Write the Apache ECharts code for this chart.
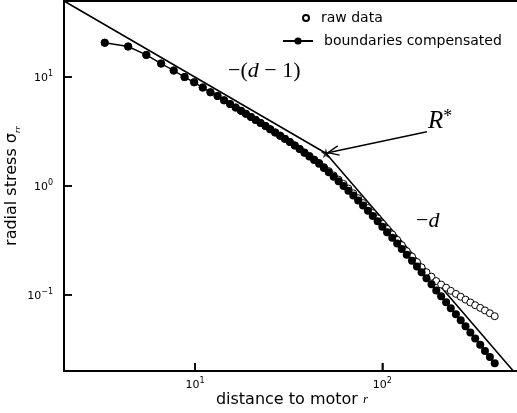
<!DOCTYPE html>
<html><head><meta charset="utf-8">
<script src="https://cdn.jsdelivr.net/npm/echarts@6/dist/echarts.min.js"></script>
<style>html,body{margin:0;padding:0;background:#fff}#c{width:517px;height:413px}</style>
</head><body><div id="c"></div>
<script>
// distance to motor r
const xValues = [3.3, 4.4, 5.5, 6.6, 7.7, 8.8, 9.9, 11.0, 12.1, 13.2, 14.3, 15.4, 16.5, 17.6,
  18.7, 19.9, 21.1, 22.4, 23.8, 25.2, 26.8, 28.5, 30.2, 32.1, 34.1, 36.2, 38.4, 40.8, 43.3, 46.0,
  48.8, 51.8, 55.0, 58.4, 62.1, 65.9, 70.0, 74.3, 78.9, 83.8, 88.9, 94.4, 100, 106, 113, 120,
  127, 135, 144, 153, 162, 172, 183, 194, 206, 219, 232, 247, 262, 278, 295, 313, 333, 353, 375, 398];
// boundaries compensated
const compensatedY = [20.7, 19.1, 16.0, 13.3, 11.5, 10.0, 8.95, 8.02, 7.25, 6.70, 6.12, 5.65, 5.25, 4.90,
  4.60, 4.31, 4.04, 3.79, 3.55, 3.32, 3.10, 2.90, 2.71, 2.54, 2.36, 2.19, 2.02, 1.87, 1.73, 1.60,
  1.46, 1.335, 1.214, 1.103, 0.999, 0.904, 0.816, 0.735, 0.661, 0.593, 0.531, 0.475, 0.423, 0.377, 0.335, 0.297,
  0.264, 0.234, 0.206, 0.182, 0.161, 0.142, 0.125, 0.110, 0.0973, 0.0857, 0.0755, 0.0665, 0.0585, 0.0514, 0.0452, 0.0397, 0.0349, 0.0306, 0.0269, 0.0236];
// raw data
const rawY = [20.7, 19.1, 16.0, 13.3, 11.5, 10.0, 8.95, 8.02, 7.25, 6.70, 6.12, 5.65, 5.25, 4.90,
  4.60, 4.31, 4.04, 3.79, 3.55, 3.32, 3.10, 2.90, 2.71, 2.54, 2.36, 2.19, 2.03, 1.89, 1.75, 1.63,
  1.49, 1.37, 1.25, 1.145, 1.044, 0.947, 0.857, 0.773, 0.697, 0.627, 0.563, 0.504, 0.450, 0.403, 0.359, 0.320,
  0.286, 0.252, 0.225, 0.2005, 0.179, 0.1615, 0.147, 0.134, 0.1245, 0.1165, 0.109, 0.1022, 0.0962, 0.0905, 0.0852, 0.0804, 0.076, 0.072, 0.0678, 0.0637];
// power-law guide lines: slope -(d-1) then -d, meeting at R*
const guideX = [2, 50, 500];
const guideY = [50, 2, 0.02];
const crossX = [50];
const crossY = [2];
// arrow from the R* label to the crossover point
const arrowX = [173, 51.2];
const arrowY = [3.15, 2.02];
// axis ranges and ticks
const xRange = [2, 543];
const yRange = [0.02, 50];
const xTicks = [10, 100];
const yTicks = [0.1, 1, 10];

const zip = (xs, ys) => xs.map((x, i) => [x, ys[i]]);
function powLabel(v) {
  const e = Math.log10(v);
  const r = Math.round(e);
  if (Math.abs(e - r) > 1e-6) return '';
  return '{b|10}{s|' + String(r).replace('-', '−') + '}';
}
const tickRich = {
  b: {fontSize: 11, color: '#000', lineHeight: 14, verticalAlign: 'bottom', fontFamily: 'DejaVu Sans'},
  s: {fontSize: 8, color: '#000', lineHeight: 4, verticalAlign: 'top', fontFamily: 'DejaVu Sans'}
};
const starPath = 'path://M50,0 L61,35 L98,35 L68,57 L79,91 L50,70 L21,91 L32,57 L2,35 L39,35 Z';
const tickStyle = {show: true, inside: true, length: 8, lineStyle: {color: '#000', width: 1.5}};

const chart = echarts.init(document.getElementById('c'), null, {renderer: 'canvas'});
const option = {
  animation: false,
  backgroundColor: '#fff',
  textStyle: {fontFamily: 'DejaVu Sans', color: '#000'},
  grid: {left: 64, right: -3, top: 1, bottom: 42, containLabel: false, outerBoundsMode: 'none'},
  legend: [
    {data: ['raw data'], left: 302, top: 11, itemWidth: 12, itemHeight: 6, padding: 0,
     selectedMode: false, textStyle: {fontSize: 14, color: '#000', padding: [0, 0, 0, 4]}},
    {data: ['boundaries compensated'], left: 282, top: 34, itemWidth: 30, itemHeight: 9, padding: 0,
     selectedMode: false, textStyle: {fontSize: 14, color: '#000', padding: [0, 0, 0, 6]}}
  ],
  xAxis: [{
    type: 'log', min: xRange[0], max: xRange[1], position: 'bottom',
    axisLine: {show: true, onZero: false, lineStyle: {color: '#000', width: 2}},
    axisTick: Object.assign({customValues: xTicks}, tickStyle),
    minorTick: {show: false}, splitLine: {show: false},
    axisLabel: {margin: 6, formatter: powLabel, rich: tickRich, customValues: xTicks},
    name: '{t|distance to motor }{r|r}', nameLocation: 'middle', nameGap: 20, nameMoveOverlap: false,
    nameTextStyle: {rich: {
      t: {fontSize: 16, color: '#000', fontFamily: 'DejaVu Sans', lineHeight: 18},
      r: {fontSize: 13, color: '#000', fontFamily: 'Liberation Serif', fontStyle: 'italic', lineHeight: 18}
    }}
  }, {
    type: 'log', min: xRange[0], max: xRange[1], position: 'top',
    axisLine: {show: true, onZero: false, lineStyle: {color: '#000', width: 2}},
    axisTick: {show: false}, axisLabel: {show: false}, splitLine: {show: false}
  }],
  yAxis: {
    type: 'log', min: yRange[0], max: yRange[1],
    axisLine: {show: true, onZero: false, lineStyle: {color: '#000', width: 2}},
    axisTick: Object.assign({customValues: yTicks}, tickStyle),
    minorTick: {show: false}, splitLine: {show: false},
    axisLabel: {margin: 11, formatter: powLabel, rich: tickRich, customValues: yTicks},
    name: '{t|radial stress σ}{sub|rr}', nameLocation: 'middle', nameGap: 42, nameMoveOverlap: false,
    nameTextStyle: {rich: {
      t: {fontSize: 16, color: '#000', fontFamily: 'DejaVu Sans', lineHeight: 18, verticalAlign: 'top'},
      sub: {fontSize: 9, color: '#000', fontFamily: 'Liberation Serif', fontStyle: 'italic', lineHeight: 6, verticalAlign: 'bottom'}
    }}
  },
  series: [
    {name: 'guide', type: 'line', data: zip(guideX, guideY), symbol: 'none', silent: true,
     lineStyle: {color: '#000', width: 1.6}, z: 2},
    {name: 'raw data', type: 'scatter', data: zip(xValues, rawY), symbol: 'circle', symbolSize: 7,
     itemStyle: {color: '#fff', borderColor: '#000', borderWidth: 1, opacity: 1}, z: 3},
    {name: 'boundaries compensated', type: 'line', data: zip(xValues, compensatedY), symbol: 'circle',
     symbolSize: 8, showSymbol: true, showAllSymbol: true,
     itemStyle: {color: '#000'}, lineStyle: {color: '#000', width: 1.4}, z: 4},
    {name: 'R*', type: 'scatter', data: zip(crossX, crossY), symbol: starPath, symbolSize: 10,
     itemStyle: {color: '#000'}, z: 5}
  ]
};
chart.setOption(option);

const toPx = (x, y) => chart.convertToPixel({seriesIndex: 0}, [x, y]);
const p0 = toPx(arrowX[0], arrowY[0]);
const p1 = toPx(arrowX[1], arrowY[1]);
const ang = Math.atan2(p0[1] - p1[1], p0[0] - p1[0]);
const hl = 12, ha = 0.4;
const a1 = [p1[0] + hl * Math.cos(ang + ha), p1[1] + hl * Math.sin(ang + ha)];
const a2 = [p1[0] + hl * Math.cos(ang - ha), p1[1] + hl * Math.sin(ang - ha)];
const mathRich = {
  m: {fontSize: 22, fontFamily: 'Liberation Serif', color: '#000'},
  i: {fontSize: 22, fontFamily: 'Liberation Serif', fontStyle: 'italic', color: '#000'},
  R: {fontSize: 25, fontFamily: 'Liberation Serif', fontStyle: 'italic', color: '#000', lineHeight: 26, verticalAlign: 'bottom'},
  st: {fontSize: 18, fontFamily: 'Liberation Serif', color: '#000', lineHeight: 8, verticalAlign: 'top'}
};
// extra inward major ticks located through the axis scales (in-range points only)
let rect = {x: 64, y: 1, width: 456, height: 370};
try {
  const r = chart.getModel().getComponent('grid', 0).coordinateSystem.getRect();
  if (r && isFinite(r.x) && isFinite(r.height)) rect = r;
} catch (e) {}
const gLeft = rect.x, gBottom = rect.y + rect.height;
const tickMarks = [];
xTicks.forEach(v => {
  const px = toPx(v, yTicks[1])[0];
  if (isFinite(px)) tickMarks.push({type: 'line', shape: {x1: px, y1: gBottom, x2: px, y2: gBottom - 8},
    style: {stroke: '#000', lineWidth: 1.5}, z: 10});
});
yTicks.forEach(v => {
  const py = toPx(xTicks[0], v)[1];
  if (isFinite(py)) tickMarks.push({type: 'line', shape: {x1: gLeft, y1: py, x2: gLeft + 8, y2: py},
    style: {stroke: '#000', lineWidth: 1.5}, z: 10});
});
chart.setOption({
  graphic: tickMarks.concat([
    {type: 'line', shape: {x1: p0[0], y1: p0[1], x2: p1[0], y2: p1[1]}, style: {stroke: '#000', lineWidth: 1.3}, z: 10},
    {type: 'polyline', shape: {points: [a1, p1, a2]}, style: {stroke: '#000', lineWidth: 1.3, fill: null}, z: 10},
    {type: 'text', x: 228, y: 71, style: {text: '{m|−(}{i|d}{m| − 1)}', rich: mathRich, align: 'left', verticalAlign: 'middle'}, z: 10},
    {type: 'text', x: 428, y: 121, style: {text: '{R|R}{st|*}', rich: mathRich, align: 'left', verticalAlign: 'middle'}, z: 10},
    {type: 'text', x: 416, y: 221, style: {text: '{m|−}{i|d}', rich: mathRich, align: 'left', verticalAlign: 'middle'}, z: 10}
  ])
});
</script></body></html>
